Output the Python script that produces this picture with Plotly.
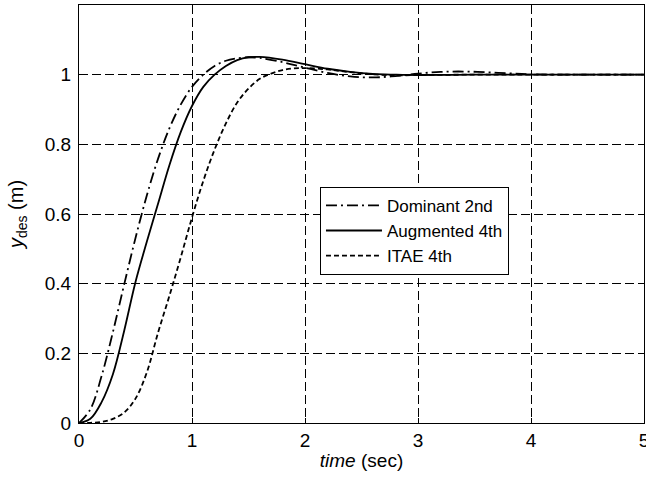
import plotly.graph_objects as go

# time samples (sec) and responses
t_dom = [0, 0.1, 0.2, 0.3, 0.4, 0.5, 0.6, 0.7, 0.8, 0.9, 1.0, 1.1, 1.2, 1.3, 1.4, 1.5, 1.6,
         1.8, 2.0, 2.2, 2.4, 2.6, 2.8, 3.0, 3.2, 3.4, 3.6, 3.8, 4.0, 4.5, 5.0]
y_dom = [0, 0.039, 0.135, 0.261, 0.398, 0.531, 0.653, 0.759, 0.846, 0.914, 0.965, 1.0, 1.025,
         1.04, 1.047, 1.05, 1.048, 1.036, 1.02, 1.005, 0.995, 0.992, 0.996, 1.003, 1.008, 1.009,
         1.007, 1.004, 1.001, 1.0, 1.0]

t_aug = [0, 0.1, 0.2, 0.3, 0.4, 0.5, 0.6, 0.7, 0.8, 0.9, 1.0, 1.1, 1.2, 1.3, 1.4, 1.5, 1.6,
         1.8, 2.0, 2.2, 2.4, 2.6, 2.8, 3.0, 3.5, 4.0, 5.0]
y_aug = [0, 0.012, 0.06, 0.14, 0.265, 0.405, 0.52, 0.63, 0.74, 0.835, 0.91, 0.965, 1.0, 1.025,
         1.042, 1.05, 1.051, 1.043, 1.03, 1.017, 1.008, 1.002, 1.0, 0.999, 1.0, 1.0, 1.0]

t_itae = [0, 0.1, 0.2, 0.3, 0.4, 0.5, 0.6, 0.7, 0.8, 0.9, 1.0, 1.1, 1.2, 1.3, 1.4, 1.5, 1.6,
          1.7, 1.8, 1.9, 2.0, 2.2, 2.4, 2.6, 2.8, 3.0, 3.5, 4.0, 5.0]
y_itae = [0, 0.0005, 0.003, 0.012, 0.03, 0.07, 0.145, 0.26, 0.365, 0.475, 0.59, 0.695, 0.785,
          0.86, 0.92, 0.96, 0.988, 1.003, 1.013, 1.018, 1.019, 1.015, 1.007, 1.001, 0.998,
          0.999, 1.0, 1.0, 1.0]

names = ["Dominant 2nd", "Augmented 4th", "ITAE 4th"]
x_ticks = [0, 1, 2, 3, 4, 5]
y_ticks = [0, 0.2, 0.4, 0.6, 0.8, 1]

FONT = "Liberation Sans, Arial, sans-serif"

fig = go.Figure()
fig.add_trace(go.Scatter(x=t_dom, y=y_dom, name=names[0], mode="lines",
                         line=dict(color="black", width=1.8, dash="11px,4px,2px,4px",
                                   shape="spline")))
fig.add_trace(go.Scatter(x=t_aug, y=y_aug, name=names[1], mode="lines",
                         line=dict(color="black", width=1.8, shape="spline")))
fig.add_trace(go.Scatter(x=t_itae, y=y_itae, name=names[2], mode="lines",
                         line=dict(color="black", width=1.8, dash="5px,3px",
                                   shape="spline")))

axis_common = dict(
    showline=True, linecolor="black", linewidth=1, mirror=True,
    showgrid=True, gridcolor="black", gridwidth=0.8, griddash="9px,4px",
    zeroline=False, ticks="inside", ticklen=5, tickcolor="black",
    tickfont=dict(family=FONT, size=19, color="black"),
    ticklabeloverflow="allow",
)

fig.update_xaxes(range=[0, 5], tickvals=x_ticks, automargin="bottom",
                 title=dict(text="<i>time</i> (sec)", standoff=3,
                            font=dict(family=FONT, size=19, color="black")),
                 **axis_common)
fig.update_yaxes(range=[0, 1.2], tickvals=y_ticks, ticklabelstandoff=3, automargin=False,
                 title=dict(text="<i>y</i><sub>des</sub> (m)",
                            font=dict(family=FONT, size=20, color="black")),
                 **axis_common)

fig.update_layout(
    width=646, height=484,
    margin=dict(l=79, r=2, t=5, b=61),
    plot_bgcolor="white", paper_bgcolor="white",
    showlegend=True,
    legend=dict(x=0.4265, y=0.565, xanchor="left", yanchor="top",
                bgcolor="white", bordercolor="black", borderwidth=1,
                font=dict(family=FONT, size=17, color="black"),
                itemwidth=56, tracegroupgap=0),
)

fig.write_html("out.html")
